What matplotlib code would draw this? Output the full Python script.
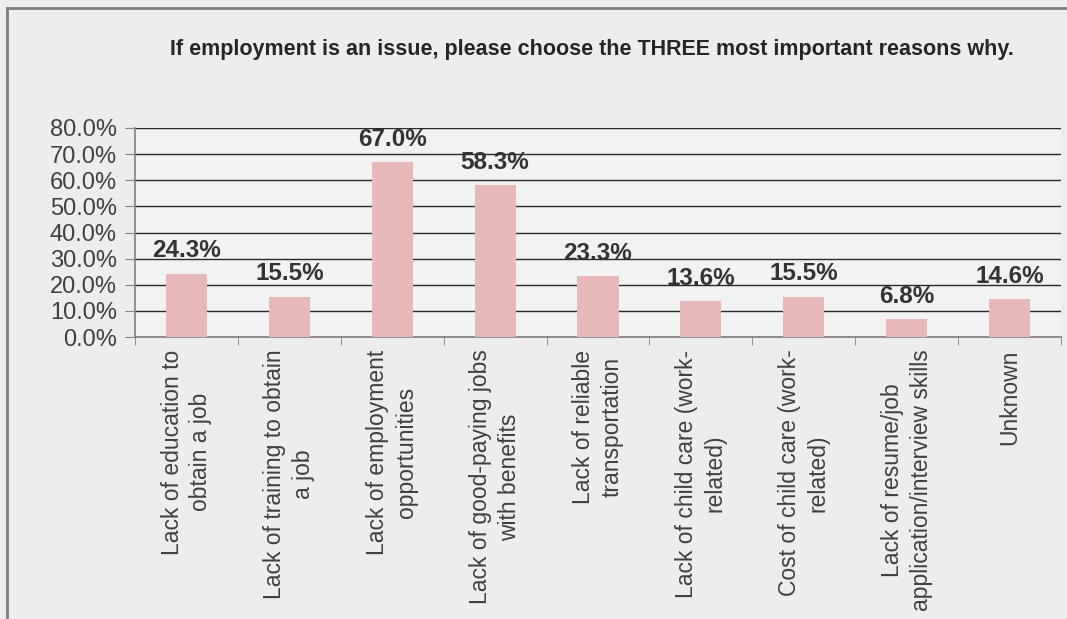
import matplotlib
matplotlib.use("Agg")
import matplotlib.pyplot as plt
import numpy as np

categories = [
    "Lack of education to\nobtain a job",
    "Lack of training to obtain\na job",
    "Lack of employment\nopportunities",
    "Lack of good-paying jobs\nwith benefits",
    "Lack of reliable\ntransportation",
    "Lack of child care (work-\nrelated)",
    "Cost of child care (work-\nrelated)",
    "Lack of resume/job\napplication/interview skills",
    "Unknown",
]
values = [24.3, 15.5, 67.0, 58.3, 23.3, 13.6, 15.5, 6.8, 14.6]
yticks = [0, 10, 20, 30, 40, 50, 60, 70, 80]
title = "If employment is an issue, please choose the THREE most important reasons why."

plt.rcParams["font.family"] = ["Liberation Sans", "DejaVu Sans"]

bg = "#EDEDED"
text_col = "#404040"

fig = plt.figure(figsize=(10.67, 6.19), dpi=100, facecolor=bg)
ax = fig.add_axes([135 / 1067, 1 - 337 / 619, (1061 - 135) / 1067, (337 - 128) / 619])
ax.set_facecolor("#F2F2F2")

x = np.arange(len(categories))
ax.bar(x, values, width=0.4, color="#E6B8B7", zorder=3)

ax.set_xlim(-0.5, len(categories) - 0.5)
ax.set_ylim(0, 80)
ax.set_yticks(yticks)
ax.set_yticklabels([f"{v:.1f}%" for v in yticks], fontsize=17, color=text_col)
ax.yaxis.grid(True, color="#2a2a2a", linewidth=1.0, zorder=1)
ax.set_axisbelow(True)

ax.set_xticks(x)
ax.set_xticklabels(categories, rotation=90, fontsize=16.5, color=text_col,
                   ha="center", va="top", multialignment="center", linespacing=1.32)
ax.tick_params(axis="x", length=0, pad=9)
ax.set_xticks(np.arange(-0.5, len(categories), 1.0), minor=True)
ax.tick_params(axis="x", which="minor", length=6, color="#808080", direction="out")
ax.tick_params(axis="y", length=7, color="#808080", direction="out", pad=6)

for s in ("top", "right"):
    ax.spines[s].set_visible(False)
for s in ("left", "bottom"):
    ax.spines[s].set_color("#808080")
    ax.spines[s].set_linewidth(1.2)

for xi, v in zip(x, values):
    ax.annotate(f"{v:.1f}%", (xi, v), xytext=(0, 8), textcoords="offset points",
                ha="center", va="bottom", fontsize=17.5, fontweight="bold",
                color="#333333", zorder=4)

fig.text(592 / 1067, 1 - 50 / 619, title, ha="center", va="center",
         fontsize=15.5, fontweight="bold", color="#262626")

# frame around the chart area
fig.add_artist(plt.Line2D([7 / 1067, 1], [1 - 8 / 619, 1 - 8 / 619],
                          transform=fig.transFigure, color="#7f7f7f", linewidth=2))
fig.add_artist(plt.Line2D([7 / 1067, 7 / 1067], [0, 1 - 8 / 619],
                          transform=fig.transFigure, color="#7f7f7f", linewidth=2))

fig.savefig("out.png", dpi=100, facecolor=bg)
